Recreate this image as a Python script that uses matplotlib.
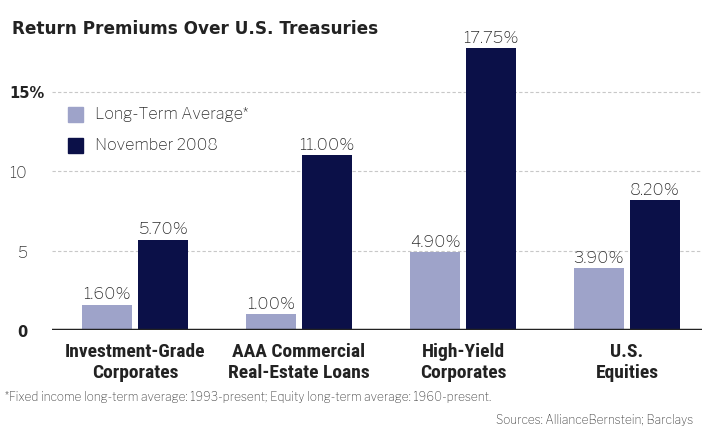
import matplotlib.pyplot as plt
import numpy as np

categories = ['Investment-Grade\nCorporates', 'AAA Commercial\nReal-Estate Loans',
              'High-Yield\nCorporates', 'U.S.\nEquities']
long_term = [1.60, 1.00, 4.90, 3.90]
nov_2008 = [5.70, 11.00, 17.75, 8.20]
series_names = ['Long-Term Average*', 'November 2008']
yticks = [0, 5, 10, 15]
ytick_labels = ['0', '5', '10', '15%']

light = '#9ea3c9'
dark = '#0b1048'
body = ['Libre Franklin', 'DejaVu Sans']
heavy = ['DejaVu Sans']
cond = ['Roboto Condensed', 'DejaVu Sans']

W, H = 702, 427
fig = plt.figure(figsize=(W / 100, H / 100), dpi=100)
# axes from x=52px to the right edge, zero line at y=331px
ax = fig.add_axes([52 / W, 1 - 331 / H, 1 - 52 / W, (331 - 40) / H])
unit = (331 - 93) / 15
ax.set_ylim(0, (331 - 40) / unit)
ax.set_xlim(-0.506, 3.457)

x = np.arange(len(categories))
bw = 0.305
off = 0.171
b1 = ax.bar(x - off, long_term, bw, color=light, zorder=3)
b2 = ax.bar(x + off, nov_2008, bw, color=dark, zorder=3)

for bars, vals in [(b1, long_term), (b2, nov_2008)]:
    for b, v in zip(bars, vals):
        ax.text(b.get_x() + b.get_width() / 2, v + 0.2, '%.2f%%' % v,
                ha='center', va='bottom', fontsize=12, color='#2e2e2e',
                family=body, zorder=4)

for y in yticks[1:]:
    ax.axhline(y, color='#c8c8c8', lw=0.8, ls=(0, (3, 2)), zorder=1)
ax.axhline(0, color='#222222', lw=2.5, zorder=5)

for s in ax.spines.values():
    s.set_visible(False)
ax.set_xticks([])
ax.set_yticks(yticks)
# top label is drawn separately so its percent sign can hang past the others
ax.set_yticklabels(ytick_labels[:-1] + [''])
ax.tick_params(axis='y', length=0, pad=18)
for lab, t in zip(ax.get_yticklabels(), ytick_labels):
    if t == '0':
        lab.set_family(heavy)
        lab.set_fontsize(10.5)
        lab.set_fontweight('bold')
        lab.set_color('#222222')
    else:
        lab.set_family(body)
        lab.set_fontsize(11.5)
        lab.set_color('#3a3a3a')
ax.annotate(ytick_labels[-1], (0, yticks[-1]), xycoords=('axes fraction', 'data'),
            xytext=(-5, 0), textcoords='offset points', ha='right', va='center',
            fontsize=10.5, fontweight='bold', color='#222222', family=heavy)

# category labels under the baseline
for xi, c in zip(x, categories):
    ax.annotate(c, (xi, 0), xytext=(0, -9), textcoords='offset points',
                ha='center', va='top', fontsize=14, fontweight='bold',
                color='#222222', family=cond, linespacing=1.2)

# legend drawn as squares and text
for i, (name, col) in enumerate(zip(series_names, [light, dark])):
    yc = 1 - (115 + i * 31) / H
    fig.patches.append(plt.Rectangle((68 / W, yc - 7.5 / H), 15 / W, 15 / H,
                                     transform=fig.transFigure, color=col))
    fig.text(95 / W, yc, name, ha='left', va='center', fontsize=11.5,
             color='#2e2e2e', family=body)

fig.text(12 / W, 1 - 29 / H, 'Return Premiums Over U.S. Treasuries',
         ha='left', va='center', fontsize=12.2, fontweight='bold',
         color='#222222', family=heavy)
fig.text(5 / W, 1 - 397 / H,
         '*Fixed income long-term average: 1993-present; Equity long-term average: 1960-present.',
         ha='left', va='center', fontsize=8.6, color='#444444', family=body)
fig.text(693 / W, 1 - 420 / H, 'Sources: AllianceBernstein; Barclays',
         ha='right', va='center', fontsize=8.6, color='#444444', family=body)

fig.savefig('out.png', dpi=100)
